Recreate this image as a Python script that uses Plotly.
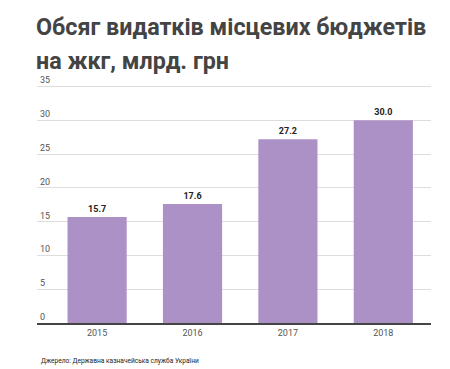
import plotly.graph_objects as go

years = ["2015", "2016", "2017", "2018"]
values = [15.7, 17.6, 27.2, 30.0]
y_ticks = [0, 5, 10, 15, 20, 25, 30, 35]

title_line1 = "Обсяг видатків місцевих бюджетів"
title_line2 = "на жкг, млрд. грн"
source_text = "Джерело: Державна казначейська служба України"

fig = go.Figure()
fig.add_trace(go.Bar(
    x=years, y=values,
    marker=dict(color="#ab91c6", line=dict(width=0)),
    text=[f"{v:.1f}" for v in values],
    textposition="outside",
    textfont=dict(family="Roboto", size=9, color="#222222", weight="bold"),
    cliponaxis=False,
))

fig.update_layout(
    width=450, height=369,
    margin=dict(l=29, r=27, t=65, b=54),
    paper_bgcolor="white", plot_bgcolor="white",
    bargap=0.38,
    showlegend=False,
    font=dict(family="Roboto", color="#555555"),
    xaxis=dict(
        type="category", range=[-0.63, 3.5], automargin=False,
        showgrid=False, showline=True, linecolor="#444444", linewidth=2,
        ticks="", tickfont=dict(size=9, color="#555555"),
    ),
    yaxis=dict(
        range=[0, 37], tickvals=y_ticks, automargin=False,
        showgrid=True, gridcolor="#dddddd", gridwidth=1,
        zeroline=False, showline=False,
        ticklabelposition="inside top",
        tickfont=dict(size=9, color="#555555"),
    ),
)

fig.add_annotation(text=title_line1, xref="paper", yref="paper",
                   x=0, y=1.0, xanchor="left", yanchor="bottom",
                   xshift=-3, yshift=30,
                   showarrow=False,
                   font=dict(family="Roboto", size=23.3, color="#444444", weight="bold"))
fig.add_annotation(text=title_line2, xref="paper", yref="paper",
                   x=0, y=1.0, xanchor="left", yanchor="bottom",
                   xshift=-3, yshift=-4,
                   showarrow=False,
                   font=dict(family="Roboto", size=23.3, color="#444444", weight="bold"))
fig.add_annotation(text=source_text, xref="paper", yref="paper",
                   x=0, y=0, xanchor="left", yanchor="top",
                   xshift=2, yshift=-32,
                   showarrow=False,
                   font=dict(family="Roboto", size=6.6, color="#222222"))

fig.write_html("out.html")
